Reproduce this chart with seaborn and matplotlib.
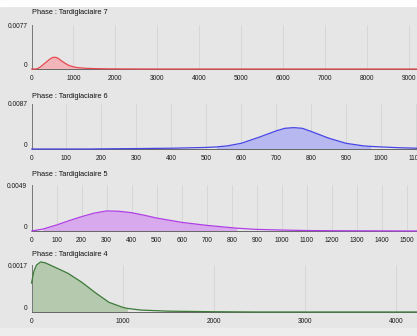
import matplotlib
matplotlib.use("Agg")
import matplotlib.pyplot as plt
import matplotlib.patches as mpatches
from matplotlib.ticker import MultipleLocator
import seaborn as sns

sns.set_style("white")
plt.rcParams['font.family'] = ['Liberation Sans', 'DejaVu Sans']

# ---------------- data ----------------
titles = ["Phase : Tardiglaciaire 7", "Phase : Tardiglaciaire 6",
          "Phase : Tardiglaciaire 5", "Phase : Tardiglaciaire 4"]
ymax_labels = ["0.0077", "0.0087", "0.0049", "0.0017"]
ymax_values = [0.0077, 0.0087, 0.0049, 0.0017]

x7 = [0, 100, 140, 200, 300, 400, 450, 500, 550, 600, 650, 700, 800, 900, 1000, 1100, 1300, 1500, 1800, 2200, 3000, 9190]
y7 = [0, 0, 0.00005, 0.0003, 0.0009, 0.0015, 0.0018, 0.00200, 0.00206, 0.0020, 0.0018, 0.0015, 0.0010, 0.0006, 0.00038, 0.00024, 0.00012, 0.00007, 0.00003, 0.00001, 0, 0]
hpd7 = (140, 1300)

x6 = [0, 170, 200, 300, 400, 500, 529, 560, 600, 650, 700, 725, 750, 775, 800, 850, 900, 950, 971, 1000, 1050, 1103]
y6 = [0, 0, 0.00003, 0.00008, 0.00015, 0.0003, 0.0004, 0.0006, 0.0011, 0.00225, 0.0035, 0.0040, 0.00413, 0.0040, 0.0034, 0.0021, 0.0011, 0.0006, 0.0005, 0.0004, 0.00025, 0.00015]
hpd6 = (529, 971)

x5 = [0, 45, 100, 150, 200, 250, 300, 350, 400, 450, 500, 600, 700, 820, 900, 1000, 1100, 1200, 1540]
y5 = [0, 0.0002, 0.00064, 0.0011, 0.00153, 0.0019, 0.00214, 0.0021, 0.00195, 0.00168, 0.00138, 0.00092, 0.0006, 0.0003, 0.00017, 0.0001, 0.00005, 0.00003, 0]
hpd5 = (45, 820)

x4 = [0, 25, 55, 100, 150, 250, 400, 550, 700, 850, 1000, 1052, 1200, 1500, 2000, 2500, 4230]
y4 = [0.00104, 0.00146, 0.0017, 0.00181, 0.00178, 0.00163, 0.0014, 0.00108, 0.0007, 0.00035, 0.00017, 0.00013, 0.00007, 0.00003, 0.00001, 0, 0]
hpd4 = (0, 1052)

series = [(x7, y7, hpd7), (x6, y6, hpd6), (x5, y5, hpd5), (x4, y4, hpd4)]
xmaxs = [9190, 1103, 1540, 4230]
majors = [1000, 100, 100, 1000]
minors = [100, 10, 10, 100]
line_colors = ['#e8474f', '#4545e6', '#b03ee6', '#3b7a37']
fill_colors = ['#f2b5ba', '#b8b8f0', '#d9a9ee', '#b4c9ae']

# ---------------- layout in pixels ----------------
W, H = 417, 336
BG = '#e6e6e6'
panel_top = [25, 104, 185, 265]     # y px of top tick
panel_base = [69, 149, 231, 312]    # y px of baseline
title_y = [13, 96, 175, 255]
left_px = 31.5
title_fs = 5.3
tick_fs = 4.8

fig = plt.figure(figsize=(W / 100, H / 100), dpi=100, facecolor=BG)
fig.patches.append(mpatches.Rectangle((0, 1 - 6 / H), 1, 6 / H, transform=fig.transFigure,
                                      color='white', zorder=-1))
fig.patches.append(mpatches.Rectangle((0, 0), 1, 8 / H, transform=fig.transFigure,
                                      color='#ededed', zorder=-1))

for i in range(4):
    xs, ys, hpd = series[i]
    b = (H - panel_base[i]) / H
    h = (panel_base[i] - panel_top[i]) / H
    ax = fig.add_axes([left_px / W, b, 1 - left_px / W, h])
    ax.set_facecolor(BG)
    ax.patch.set_alpha(0)

    # HPD fill
    fx = [x for x in xs if hpd[0] <= x <= hpd[1]]
    fy = [y for x, y in zip(xs, ys) if hpd[0] <= x <= hpd[1]]
    ax.fill_between(fx, 0, fy, color=fill_colors[i], lw=0, clip_on=False, zorder=2)
    sns.lineplot(x=xs, y=ys, ax=ax, color=line_colors[i], lw=0.9, clip_on=False, zorder=3)

    ax.set_xlim(0, xmaxs[i])
    ax.set_ylim(0, ymax_values[i])
    ax.set_yticks([0, ymax_values[i]])
    ax.set_yticklabels(["0", ymax_labels[i]])
    ax.get_yticklabels()[0].set_va('bottom')

    ax.xaxis.set_major_locator(MultipleLocator(majors[i]))
    ax.xaxis.set_minor_locator(MultipleLocator(minors[i]))
    ax.tick_params(axis='x', which='major', length=3.2, width=0.6, color='#555555',
                   direction='out', labelsize=tick_fs, pad=1.2, labelcolor='#1a1a1a')
    ax.tick_params(axis='x', which='minor', length=1.6, width=0.5, color='#777777',
                   direction='out')
    ax.tick_params(axis='y', length=0, labelsize=tick_fs, pad=3, labelcolor='#1a1a1a')

    ax.grid(axis='x', which='major', color='#d3d3d3', lw=0.6)
    ax.set_axisbelow(True)
    for s in ['top', 'right']:
        ax.spines[s].set_visible(False)
    ax.spines['left'].set_color('#777777')
    ax.spines['left'].set_linewidth(0.7)
    ax.spines['bottom'].set_color('#666666')
    ax.spines['bottom'].set_linewidth(0.7)
    ax.plot([0], [1.03], marker='^', ms=2.6, color='#777777',
            transform=ax.get_yaxis_transform(), clip_on=False)

    fig.text(32 / W, 1 - title_y[i] / H, titles[i], fontsize=title_fs, va='center', ha='left',
             color='#111111')

fig.savefig("out.png", dpi=100, facecolor=BG)
